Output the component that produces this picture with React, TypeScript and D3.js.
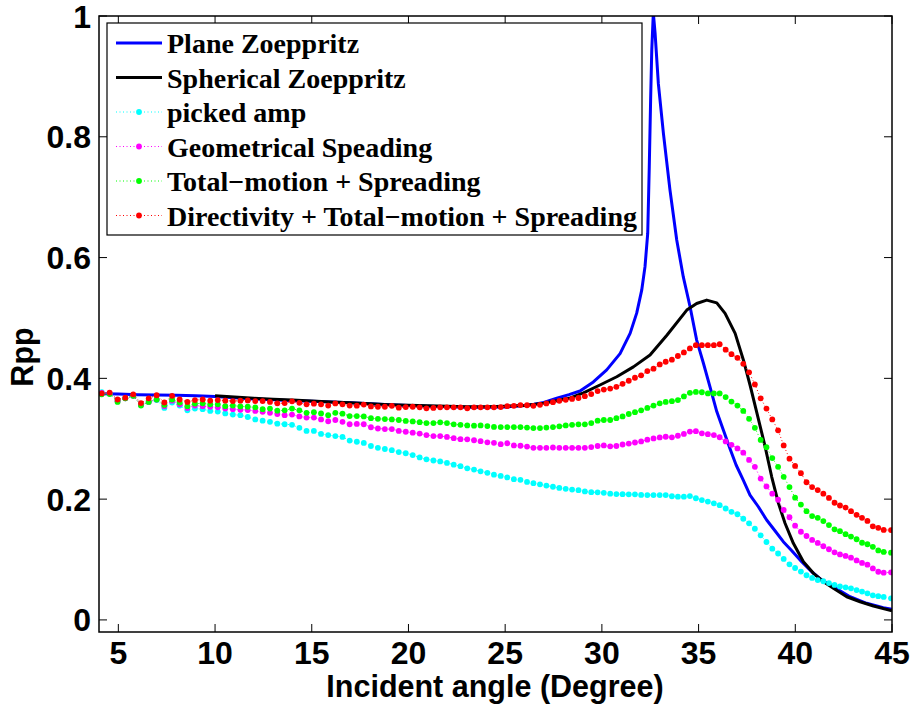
import React from 'react';
import * as d3 from 'd3';

// Incident angles of the picked traces (dotted series)
const DOT_ANGLES = [
  4.14, 4.55, 4.96, 5.36, 5.77, 6.17, 6.57, 6.98, 7.38, 7.78,
  8.17, 8.57, 8.96, 9.36, 9.75, 10.14, 10.53, 10.92, 11.31, 11.69,
  12.08, 12.46, 12.84, 13.22, 13.6, 13.98, 14.36, 14.73, 15.11, 15.48,
  15.85, 16.22, 16.59, 16.96, 17.33, 17.69, 18.06, 18.42, 18.78, 19.14,
  19.5, 19.86, 20.22, 20.58, 20.93, 21.29, 21.64, 21.99, 22.34, 22.69,
  23.04, 23.39, 23.73, 24.08, 24.42, 24.77, 25.11, 25.45, 25.79, 26.13,
  26.46, 26.8, 27.13, 27.47, 27.8, 28.13, 28.46, 28.79, 29.12, 29.45,
  29.78, 30.1, 30.43, 30.75, 31.07, 31.39, 31.71, 32.03, 32.35, 32.67,
  32.99, 33.3, 33.62, 33.93, 34.24, 34.55, 34.86, 35.17, 35.48, 35.79,
  36.09, 36.4, 36.7, 37.01, 37.31, 37.61, 37.91, 38.21, 38.51, 38.81,
  39.11, 39.4, 39.7, 39.99, 40.29, 40.58, 40.87, 41.16, 41.45, 41.74,
  42.03, 42.31, 42.6, 42.88, 43.17, 43.45, 43.73, 44.01, 44.29, 44.57,
  44.95,
];

const PICKED_AMP = [
  0.377, 0.375, 0.363, 0.367, 0.371, 0.357, 0.361, 0.364, 0.351, 0.36,
  0.355, 0.347, 0.35, 0.349, 0.346, 0.345, 0.342, 0.34, 0.339, 0.336,
  0.332, 0.33, 0.328, 0.325, 0.324, 0.323, 0.318, 0.313, 0.313, 0.308,
  0.306, 0.3045, 0.303, 0.297, 0.295, 0.293, 0.288, 0.285, 0.283, 0.281,
  0.278, 0.276, 0.273, 0.269, 0.266, 0.264, 0.2625, 0.26, 0.257, 0.2545,
  0.251, 0.249, 0.246, 0.2435, 0.2405, 0.2385, 0.236, 0.233, 0.232, 0.2285,
  0.2265, 0.2245, 0.2225, 0.2205, 0.2185, 0.217, 0.2158, 0.2148, 0.2128, 0.2115,
  0.2113, 0.2105, 0.209, 0.2084, 0.2082, 0.208, 0.208, 0.207, 0.2068, 0.2068,
  0.2068, 0.2068, 0.2048, 0.204, 0.204, 0.205, 0.2015, 0.1985, 0.196, 0.193,
  0.19, 0.1845, 0.179, 0.175, 0.1675, 0.16, 0.151, 0.14, 0.129, 0.118,
  0.11, 0.101, 0.092, 0.086, 0.08, 0.074, 0.0695, 0.066, 0.064, 0.061,
  0.058, 0.0555, 0.054, 0.0523, 0.0495, 0.047, 0.044, 0.0408, 0.0393, 0.038,
  0.0357,
];

const GEOMETRICAL_SPREADING = [
  0.376, 0.375, 0.362, 0.367, 0.371, 0.356, 0.361, 0.365, 0.354, 0.363,
  0.357, 0.351, 0.355, 0.354, 0.353, 0.352, 0.35, 0.349, 0.348, 0.3475,
  0.346, 0.3445, 0.343, 0.341, 0.339, 0.34, 0.337, 0.335, 0.335, 0.332,
  0.329, 0.331, 0.328, 0.324, 0.3245, 0.324, 0.319, 0.317, 0.316, 0.316,
  0.313, 0.3116, 0.31, 0.3085, 0.306, 0.3045, 0.3045, 0.303, 0.301, 0.2993,
  0.299, 0.2975, 0.296, 0.294, 0.2932, 0.291, 0.2925, 0.289, 0.2884, 0.287,
  0.285, 0.285, 0.285, 0.2855, 0.285, 0.285, 0.285, 0.285, 0.285, 0.2862,
  0.288, 0.289, 0.2875, 0.288, 0.2905, 0.292, 0.2938, 0.2955, 0.2985, 0.3005,
  0.3022, 0.3033, 0.3023, 0.305, 0.308, 0.3118, 0.3125, 0.309, 0.3075, 0.306,
  0.3025, 0.2955, 0.29, 0.284, 0.277, 0.265, 0.2535, 0.234, 0.221, 0.209,
  0.199, 0.182, 0.17, 0.156, 0.146, 0.139, 0.1325, 0.1275, 0.122, 0.117,
  0.112, 0.1085, 0.106, 0.103, 0.0985, 0.0943, 0.0915, 0.0852, 0.0798, 0.0783,
  0.0788,
];

const TOTAL_MOTION_SPREADING = [
  0.3735, 0.374, 0.361, 0.367, 0.371, 0.355, 0.361, 0.365, 0.356, 0.365,
  0.36, 0.354, 0.358, 0.3586, 0.357, 0.357, 0.354, 0.355, 0.3535, 0.353,
  0.352, 0.349, 0.35, 0.3465, 0.347, 0.35, 0.347, 0.343, 0.344, 0.342,
  0.339, 0.343, 0.3415, 0.3376, 0.3376, 0.337, 0.334, 0.333, 0.3325, 0.332,
  0.331, 0.3295, 0.3287, 0.3275, 0.326, 0.326, 0.3272, 0.326, 0.3238, 0.323,
  0.322, 0.3217, 0.322, 0.321, 0.3196, 0.3193, 0.3193, 0.3193, 0.3193, 0.3185,
  0.3177, 0.3177, 0.3185, 0.3193, 0.3205, 0.322, 0.323, 0.3238, 0.3238, 0.326,
  0.33, 0.331, 0.331, 0.334, 0.337, 0.341, 0.344, 0.347, 0.351, 0.355,
  0.3586, 0.361, 0.3622, 0.364, 0.37, 0.376, 0.3775, 0.377, 0.375, 0.375,
  0.375, 0.369, 0.3615, 0.355, 0.346, 0.333, 0.318, 0.298, 0.286, 0.268,
  0.2535, 0.237, 0.22, 0.2025, 0.191, 0.18, 0.172, 0.169, 0.1636, 0.157,
  0.15, 0.147, 0.142, 0.138, 0.1336, 0.1278, 0.1253, 0.121, 0.115, 0.1126,
  0.1113,
];

const DIRECTIVITY_TOTAL_SPREADING = [
  0.375, 0.3765, 0.365, 0.368, 0.3735, 0.359, 0.367, 0.372, 0.36, 0.371,
  0.365, 0.361, 0.364, 0.365, 0.363, 0.364, 0.363, 0.3624, 0.363, 0.3635,
  0.3624, 0.3624, 0.361, 0.3586, 0.359, 0.362, 0.3595, 0.357, 0.358, 0.357,
  0.355, 0.3585, 0.357, 0.355, 0.3547, 0.3565, 0.3535, 0.353, 0.353, 0.3545,
  0.3515, 0.3525, 0.353, 0.352, 0.3503, 0.351, 0.352, 0.352, 0.352, 0.352,
  0.3505, 0.352, 0.352, 0.352, 0.352, 0.3525, 0.354, 0.3545, 0.3558, 0.3555,
  0.3545, 0.3562, 0.3585, 0.3605, 0.3628, 0.3645, 0.366, 0.3675, 0.3705, 0.374,
  0.379, 0.3815, 0.383, 0.386, 0.391, 0.396, 0.401, 0.405, 0.412, 0.416,
  0.423, 0.4275, 0.431, 0.437, 0.443, 0.4495, 0.455, 0.455, 0.455, 0.455,
  0.4565, 0.4475, 0.44, 0.434, 0.424, 0.41, 0.39, 0.367, 0.35, 0.332,
  0.314, 0.289, 0.267, 0.255, 0.243, 0.228, 0.22, 0.215, 0.209, 0.202,
  0.194, 0.1895, 0.186, 0.18, 0.174, 0.169, 0.164, 0.155, 0.1525, 0.149,
  0.1488,
];

// Plane-wave Zoeppritz (solid blue)
const PLANE_ANGLES = [
  4.14, 5, 6, 7, 8, 9, 10, 11, 12, 13, 14, 15, 16, 17, 18, 19, 20, 21, 22, 23,
  24, 25, 26, 26.5, 27, 27.67, 28.3, 28.87, 29.56, 30.25, 30.94, 31.46, 31.8,
  32.06, 32.23, 32.37, 32.45, 32.52, 32.58, 32.66, 32.75, 32.92, 33.18, 33.52,
  33.87, 34.21, 34.56, 34.9, 35.25, 35.59, 35.94, 36.28, 36.63, 36.94, 37.31,
  37.66, 38.09, 38.52, 38.95, 39.38, 39.82, 40.33, 40.85, 41.37, 41.97, 42.83,
  43.69, 44.55, 45,
];
const PLANE_RPP = [
  0.3745, 0.374, 0.373, 0.3725, 0.372, 0.371, 0.37, 0.368, 0.366, 0.3645, 0.363,
  0.362, 0.361, 0.3595, 0.358, 0.3565, 0.355, 0.354, 0.353, 0.352, 0.352, 0.3525,
  0.355, 0.357, 0.36, 0.367, 0.373, 0.379, 0.394, 0.414, 0.441, 0.4745, 0.508,
  0.546, 0.585, 0.64, 0.75, 0.861, 0.944, 1.005, 0.972, 0.888, 0.806, 0.712,
  0.629, 0.568, 0.5185, 0.4634, 0.425, 0.386, 0.345, 0.3144, 0.283, 0.2565,
  0.2316, 0.2068, 0.1874, 0.1654, 0.1477, 0.1295, 0.1146, 0.0964, 0.0798, 0.066,
  0.055, 0.0384, 0.0275, 0.0202, 0.0175,
];

// Spherical-wave Zoeppritz (solid black)
const SPHERICAL_ANGLES = [
  10, 11, 12, 13, 14, 15, 16, 17, 18, 19, 20, 21, 22, 23, 24, 25, 26, 27, 27.67,
  28.3, 29.05, 29.9, 30.77, 31.63, 32.49, 33.35, 34.39, 34.9, 35.42, 35.94, 36.37,
  36.89, 37.32, 37.66, 38.02, 38.44, 38.78, 39.13, 39.47, 39.9, 40.42, 40.94,
  41.46, 41.97, 42.66, 43.35, 44.04, 45,
];
const SPHERICAL_RPP = [
  0.371, 0.369, 0.367, 0.3655, 0.364, 0.3625, 0.361, 0.3595, 0.358, 0.3565,
  0.3555, 0.3545, 0.354, 0.353, 0.353, 0.354, 0.355, 0.359, 0.363, 0.367, 0.376,
  0.389, 0.4027, 0.419, 0.4386, 0.471, 0.513, 0.524, 0.5296, 0.525, 0.5076,
  0.4745, 0.43, 0.389, 0.342, 0.2868, 0.237, 0.193, 0.16, 0.1268, 0.0964, 0.0772,
  0.0632, 0.0523, 0.0384, 0.0301, 0.023, 0.0152,
];

const X_TICKS = [5, 10, 15, 20, 25, 30, 35, 40, 45];
const Y_TICKS = [0, 0.2, 0.4, 0.6, 0.8, 1];
const Y_TICK_LABELS = ['0', '0.2', '0.4', '0.6', '0.8', '1'];

const LEGEND_LABELS = [
  'Plane Zoeppritz',
  'Spherical Zoeppritz',
  'picked amp',
  'Geometrical Speading',
  'Total\u2212motion + Spreading',
  'Directivity + Total\u2212motion + Spreading',
];

const W = 912;
const H = 704;
const PL = 99;
const PR = 892;
const PT = 16;
const PB = 632;

const SANS = '"Liberation Sans", Arial, Helvetica, sans-serif';
const SERIF = '"Liberation Serif", "Times New Roman", Times, serif';

export default function App() {
  const x = d3.scaleLinear().domain([4, 45]).range([PL, PR]);
  const y = d3.scaleLinear().domain([-0.02, 1]).range([PB, PT]);

  const line = d3
    .line<[number, number]>()
    .x((d) => x(d[0]))
    .y((d) => y(d[1]));

  const zip = (a: number[], b: number[]) =>
    a.map((v, i) => [v, b[i]] as [number, number]);

  const solidSeries = [
    { pts: zip(PLANE_ANGLES, PLANE_RPP), color: '#0000ff' },
    { pts: zip(SPHERICAL_ANGLES, SPHERICAL_RPP), color: '#000000' },
  ];
  const dotSeries = [
    { pts: zip(DOT_ANGLES, PICKED_AMP), color: '#00ffff' },
    { pts: zip(DOT_ANGLES, GEOMETRICAL_SPREADING), color: '#ff00ff' },
    { pts: zip(DOT_ANGLES, TOTAL_MOTION_SPREADING), color: '#00ff00' },
    { pts: zip(DOT_ANGLES, DIRECTIVITY_TOTAL_SPREADING), color: '#ff0000' },
  ];
  const legendColors = ['#0000ff', '#000000', '#00ffff', '#ff00ff', '#00ff00', '#ff0000'];

  const tickLen = 8;

  return (
    <svg
      width={W}
      height={H}
      style={{ position: 'absolute', left: 0, top: 0, background: '#fff' }}
    >
      <defs>
        <clipPath id="plotclip">
          <rect x={PL} y={PT} width={PR - PL} height={PB - PT} />
        </clipPath>
      </defs>
      <rect x={0} y={0} width={W} height={H} fill="#fff" />

      {/* ticks */}
      <g stroke="#000" strokeWidth={1}>
        {X_TICKS.map((t) => (
          <g key={'xt' + t}>
            <line x1={x(t)} x2={x(t)} y1={PB} y2={PB - tickLen} />
            <line x1={x(t)} x2={x(t)} y1={PT} y2={PT + tickLen} />
          </g>
        ))}
        {Y_TICKS.map((t) => (
          <g key={'yt' + t}>
            <line x1={PL} x2={PL + tickLen} y1={y(t)} y2={y(t)} />
            <line x1={PR} x2={PR - tickLen} y1={y(t)} y2={y(t)} />
          </g>
        ))}
      </g>

      {/* data */}
      <g clipPath="url(#plotclip)">
        {solidSeries.map((s, i) => (
          <path
            key={'s' + i}
            d={line(s.pts) || ''}
            fill="none"
            stroke={s.color}
            strokeWidth={3}
            strokeLinejoin="round"
          />
        ))}
        {dotSeries.map((s, i) => (
          <g key={'d' + i}>
            <path
              d={line(s.pts) || ''}
              fill="none"
              stroke={s.color}
              strokeWidth={1}
              strokeDasharray="1,2.5"
            />
            {s.pts.map((p, j) => (
              <circle key={j} cx={x(p[0])} cy={y(p[1])} r={2.9} fill={s.color} />
            ))}
          </g>
        ))}
      </g>

      {/* axes box */}
      <rect
        x={PL}
        y={PT}
        width={PR - PL}
        height={PB - PT}
        fill="none"
        stroke="#000"
        strokeWidth={1.5}
      />

      {/* tick labels */}
      <g fontFamily={SANS} fontWeight="bold" fontSize={32} fill="#000">
        {X_TICKS.map((t) => (
          <text key={'xl' + t} x={x(t)} y={664} textAnchor="middle">
            {t}
          </text>
        ))}
        {Y_TICKS.map((t, i) => (
          <text key={'yl' + t} x={91} y={y(t)} dy="0.36em" textAnchor="end">
            {Y_TICK_LABELS[i]}
          </text>
        ))}
      </g>

      {/* axis labels */}
      <text
        x={495}
        y={697}
        textAnchor="middle"
        fontFamily={SANS}
        fontWeight="bold"
        fontSize={30.5}
      >
        Incident angle (Degree)
      </text>
      <text
        transform="translate(33,357) rotate(-90)"
        textAnchor="middle"
        fontFamily={SANS}
        fontWeight="bold"
        fontSize={30.5}
      >
        Rpp
      </text>

      {/* legend */}
      <g>
        <rect x={107} y={23} width={535} height={212} fill="#fff" stroke="#000" strokeWidth={1.2} />
        {LEGEND_LABELS.map((lab, i) => {
          const cy = 43 + i * 34.5;
          const c = legendColors[i];
          return (
            <g key={'lg' + i}>
              {i < 2 ? (
                <line x1={116} x2={162} y1={cy} y2={cy} stroke={c} strokeWidth={3} />
              ) : (
                <g>
                  <line
                    x1={116}
                    x2={162}
                    y1={cy}
                    y2={cy}
                    stroke={c}
                    strokeWidth={1}
                    strokeDasharray="1,2.5"
                  />
                  <circle cx={139} cy={cy} r={2.9} fill={c} />
                </g>
              )}
              <text
                x={167}
                y={cy + 10}
                fontFamily={SERIF}
                fontWeight="bold"
                fontSize={28}
                fill="#000"
              >
                {lab}
              </text>
            </g>
          );
        })}
      </g>
    </svg>
  );
}
